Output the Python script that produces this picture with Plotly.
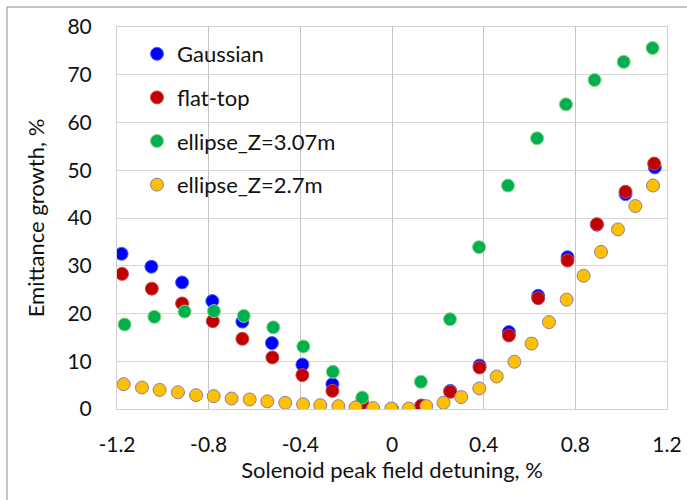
import plotly.graph_objects as go

# Detuning (%) and emittance growth (%) per beam distribution
gauss_x = [-1.18, -1.05, -0.916, -0.784, -0.653, -0.524, -0.391, -0.260, -0.131, 0.0,
           0.128, 0.254, 0.382, 0.510, 0.638, 0.766, 0.894, 1.019, 1.147]
gauss_y = [32.5, 29.8, 26.5, 22.6, 18.3, 13.8, 9.3, 5.2, 1.4, 0.0,
           0.7, 3.8, 9.1, 16.1, 23.7, 31.8, 38.6, 45.0, 50.6]

flat_x = [-1.178, -1.048, -0.916, -0.782, -0.653, -0.522, -0.391, -0.260, -0.131, 0.0,
          0.128, 0.254, 0.382, 0.510, 0.638, 0.766, 0.894, 1.019, 1.144]
flat_y = [28.3, 25.2, 22.1, 18.4, 14.7, 10.8, 7.1, 3.8, 1.2, 0.0,
          0.7, 3.6, 8.7, 15.4, 23.2, 31.1, 38.7, 45.5, 51.4]

ell307_x = [-1.167, -1.037, -0.905, -0.777, -0.647, -0.518, -0.387, -0.258, -0.130, 0.0,
            0.126, 0.253, 0.380, 0.506, 0.633, 0.759, 0.884, 1.011, 1.137]
ell307_y = [17.7, 19.3, 20.4, 20.5, 19.5, 17.1, 13.1, 7.8, 2.4, 0.0,
            5.7, 18.8, 33.9, 46.8, 56.7, 63.8, 68.9, 72.7, 75.6]

ell27_x = [-1.171, -1.091, -1.014, -0.934, -0.855, -0.778, -0.700, -0.621, -0.544, -0.466,
           -0.388, -0.313, -0.234, -0.159, -0.082, -0.003, 0.073, 0.150, 0.225, 0.302,
           0.381, 0.457, 0.534, 0.609, 0.685, 0.762, 0.836, 0.912, 0.986, 1.062, 1.139]
ell27_y = [5.2, 4.5, 4.0, 3.5, 2.9, 2.7, 2.2, 2.0, 1.6, 1.3,
           1.0, 0.8, 0.6, 0.3, 0.2, 0.1, 0.1, 0.6, 1.3, 2.5,
           4.3, 6.8, 9.9, 13.7, 18.2, 22.9, 27.9, 32.9, 37.6, 42.5, 46.8]

x_ticks = [-1.2, -0.8, -0.4, 0, 0.4, 0.8, 1.2]
x_tick_text = ["-1.2", "-0.8", "-0.4", "0", "0.4", "0.8", "1.2"]
y_ticks = [0, 10, 20, 30, 40, 50, 60, 70, 80]

series = [
    ("Gaussian", gauss_x, gauss_y, "#0000FF", "#4466FF"),
    ("flat-top", flat_x, flat_y, "#C00000", "#D04848"),
    ("ellipse_Z=3.07m", ell307_x, ell307_y, "#00B050", "#8CD47A"),
    ("ellipse_Z=2.7m", ell27_x, ell27_y, "#FFC000", "#8E7CB0"),
]

FONT = "Lato, 'Open Sans', sans-serif"

fig = go.Figure()
for i, (name, xs, ys, fill, edge) in enumerate(series):
    fig.add_trace(go.Scatter(
        x=xs, y=ys, mode="markers", name=name, legendgroup=f"g{i}",
        marker=dict(size=13, color=fill, line=dict(color=edge, width=1)),
    ))

W, H = 687, 500
ML, MR, MT, MB = 117, 20, 27, 91
pw, ph = W - ML - MR, H - MT - MB

def px_to_paper_x(px):
    return (px - ML) / pw

def px_to_paper_y(py):
    return 1 - (py - MT) / ph

fig.update_layout(
    width=W, height=H,
    margin=dict(l=ML, r=MR, t=MT, b=MB, autoexpand=False),
    paper_bgcolor="white", plot_bgcolor="white",
    font=dict(family=FONT, color="#111111", size=21),
    showlegend=True,
    legend=dict(
        x=px_to_paper_x(137), y=px_to_paper_y(33),
        xanchor="left", yanchor="top",
        bgcolor="rgba(255,255,255,0)",
        font=dict(family=FONT, size=22, color="#111111"),
        tracegroupgap=12,
        itemsizing="trace",
    ),
    xaxis=dict(
        range=[-1.2, 1.2], tickvals=x_ticks, ticktext=x_tick_text,
        showgrid=True, gridcolor="#C4C4C4", gridwidth=1,
        zeroline=False, showline=True, linecolor="#D0D0D0", linewidth=1, mirror=True,
        ticks="", ticklabelstandoff=17, automargin=False,
        tickfont=dict(family=FONT, size=21),
        title=dict(text="Solenoid peak field detuning, %", standoff=5,
                   font=dict(family=FONT, size=22)),
    ),
    yaxis=dict(
        range=[0, 80], tickvals=y_ticks,
        showgrid=True, gridcolor="#D6D6D6", gridwidth=1,
        zeroline=False, showline=True, linecolor="#D0D0D0", linewidth=1, mirror=True,
        ticks="", ticklabelstandoff=20, automargin=False,
        tickfont=dict(family=FONT, size=21),
        title=dict(text="Emittance growth, %", standoff=16,
                   font=dict(family=FONT, size=22)),
    ),
    shapes=[
        dict(type="line", xref="paper", yref="paper",
             x0=px_to_paper_x(7), x1=px_to_paper_x(700),
             y0=px_to_paper_y(7), y1=px_to_paper_y(7),
             line=dict(color="#8C8C8C", width=1)),
        dict(type="line", xref="paper", yref="paper",
             x0=px_to_paper_x(7), x1=px_to_paper_x(7),
             y0=px_to_paper_y(7), y1=px_to_paper_y(510),
             line=dict(color="#8C8C8C", width=1)),
    ],
)

fig.write_html("out.html")
